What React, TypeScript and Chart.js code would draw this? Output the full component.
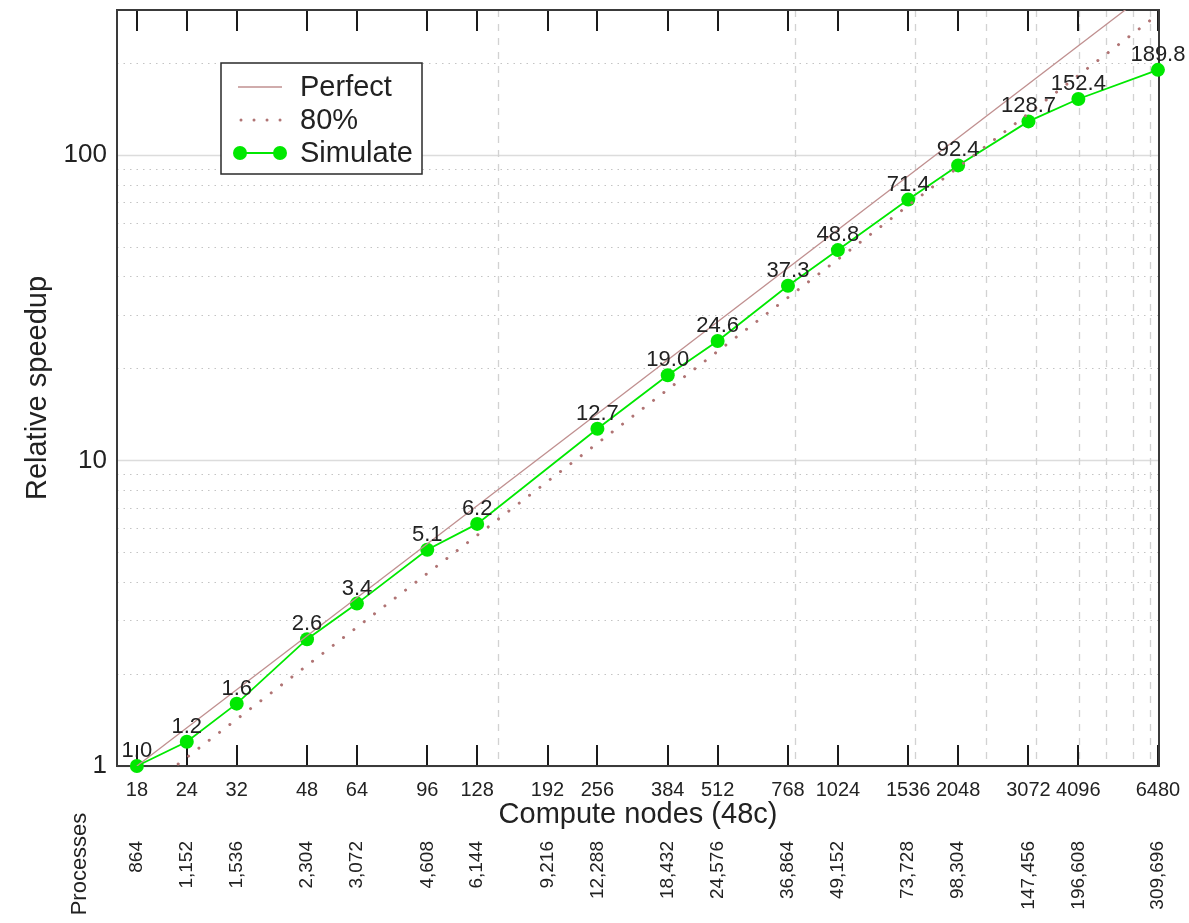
import React, { useEffect, useRef } from 'react';
import { Chart, registerables } from 'chart.js';

Chart.register(...registerables);

const FONT = '"Liberation Sans", Arial, Helvetica, sans-serif';

// Measured data
const computeNodes = [18, 24, 32, 48, 64, 96, 128, 256, 384, 512, 768, 1024, 1536, 2048, 3072, 4096, 6480];
const simulateSpeedup = [1.0, 1.2, 1.6, 2.6, 3.4, 5.1, 6.2, 12.7, 19.0, 24.6, 37.3, 48.8, 71.4, 92.4, 128.7, 152.4, 189.8];

// Reference lines (end points)
const perfectNodes = [18, 6480];
const perfectSpeedup = [1, 360];
const eightyNodes = [18, 6480];
const eightySpeedup = [0.8, 288];

// Axis ticks / labels
const nodeTickValues = [18, 24, 32, 48, 64, 96, 128, 192, 256, 384, 512, 768, 1024, 1536, 2048, 3072, 4096, 6480];
const processLabels = ['864', '1,152', '1,536', '2,304', '3,072', '4,608', '6,144', '9,216', '12,288', '18,432', '24,576', '36,864', '49,152', '73,728', '98,304', '147,456', '196,608', '309,696'];
const yTickValues = [1, 10, 100];
const yMinorGrid = [2, 3, 4, 5, 6, 7, 8, 9, 20, 30, 40, 50, 60, 70, 80, 90, 200];
const xDashedGrid = [144, 800, 1600, 2400, 3200, 4100, 4800, 5600, 6200];

const legendItems = ['Perfect', '80%', 'Simulate'];

const PERFECT_COLOR = '#c09090';
const EIGHTY_COLOR = '#b07474';
const GREEN = '#00e800';

const decorPlugin = {
  id: 'decor',
  beforeDatasetsDraw(chart: any) {
    const { ctx, chartArea: a, scales } = chart;
    const x = scales.x;
    const y = scales.y;
    ctx.save();
    // major horizontal grid
    ctx.strokeStyle = '#dcdcdc';
    ctx.lineWidth = 1.3;
    for (const v of yTickValues) {
      const py = Math.round(y.getPixelForValue(v)) + 0.5;
      ctx.beginPath();
      ctx.moveTo(a.left, py);
      ctx.lineTo(a.right, py);
      ctx.stroke();
    }
    // minor dotted grid
    ctx.setLineDash([1.5, 5]);
    ctx.strokeStyle = '#c4c4c4';
    ctx.lineWidth = 1;
    for (const v of yMinorGrid) {
      const py = Math.round(y.getPixelForValue(v)) + 0.5;
      if (py < a.top || py > a.bottom) continue;
      ctx.beginPath();
      ctx.moveTo(a.left, py);
      ctx.lineTo(a.right, py);
      ctx.stroke();
    }
    // vertical dashed grid
    ctx.setLineDash([7, 7]);
    ctx.strokeStyle = '#d2d2d2';
    ctx.lineWidth = 1.3;
    for (const v of xDashedGrid) {
      const px = Math.round(x.getPixelForValue(v)) + 0.5;
      ctx.beginPath();
      ctx.moveTo(px, a.top);
      ctx.lineTo(px, a.bottom);
      ctx.stroke();
    }
    ctx.setLineDash([]);
    // tick marks (inward, bottom and top)
    ctx.strokeStyle = '#1a1a1a';
    ctx.lineWidth = 2;
    for (const v of nodeTickValues) {
      const px = Math.round(x.getPixelForValue(v));
      ctx.beginPath();
      ctx.moveTo(px, a.bottom);
      ctx.lineTo(px, a.bottom - 21);
      ctx.moveTo(px, a.top);
      ctx.lineTo(px, a.top + 21);
      ctx.stroke();
    }
    // frame
    ctx.strokeStyle = '#3a3a3a';
    ctx.lineWidth = 2;
    ctx.strokeRect(a.left, a.top, a.right - a.left, a.bottom - a.top);
    ctx.restore();
  },
  afterDatasetsDraw(chart: any) {
    const { ctx, chartArea: a, scales } = chart;
    const x = scales.x;
    const y = scales.y;
    ctx.save();
    // data labels
    ctx.fillStyle = '#222';
    ctx.font = `22px ${FONT}`;
    ctx.textAlign = 'center';
    ctx.textBaseline = 'alphabetic';
    computeNodes.forEach((n, i) => {
      const px = x.getPixelForValue(n);
      const py = y.getPixelForValue(simulateSpeedup[i]);
      ctx.fillText(simulateSpeedup[i].toFixed(1), px, py - 9);
    });

    // legend
    const lx = 221, ly = 63, lw = 201, lh = 111;
    ctx.fillStyle = '#ffffff';
    ctx.fillRect(lx, ly, lw, lh);
    ctx.strokeStyle = '#2a2a2a';
    ctx.lineWidth = 1.5;
    ctx.strokeRect(lx, ly, lw, lh);
    const rowY = [87, 120, 153];
    // Perfect sample
    ctx.strokeStyle = PERFECT_COLOR;
    ctx.lineWidth = 1.3;
    ctx.beginPath();
    ctx.moveTo(238, rowY[0]);
    ctx.lineTo(282, rowY[0]);
    ctx.stroke();
    // 80% sample
    ctx.strokeStyle = EIGHTY_COLOR;
    ctx.lineWidth = 3;
    ctx.lineCap = 'round';
    ctx.setLineDash([0.01, 13]);
    ctx.beginPath();
    ctx.moveTo(241, rowY[1]);
    ctx.lineTo(282, rowY[1]);
    ctx.stroke();
    ctx.setLineDash([]);
    ctx.lineCap = 'butt';
    // Simulate sample
    ctx.strokeStyle = GREEN;
    ctx.lineWidth = 1.8;
    ctx.beginPath();
    ctx.moveTo(240, rowY[2]);
    ctx.lineTo(280, rowY[2]);
    ctx.stroke();
    ctx.fillStyle = GREEN;
    for (const cx of [240, 280]) {
      ctx.beginPath();
      ctx.arc(cx, rowY[2], 7, 0, Math.PI * 2);
      ctx.fill();
    }
    ctx.fillStyle = '#222';
    ctx.font = `29px ${FONT}`;
    ctx.textAlign = 'left';
    ctx.textBaseline = 'middle';
    legendItems.forEach((t, i) => ctx.fillText(t, 300, rowY[i] + 1));

    // axis titles
    ctx.textAlign = 'center';
    ctx.textBaseline = 'middle';
    ctx.font = `29px ${FONT}`;
    ctx.fillText('Compute nodes (48c)', (a.left + a.right) / 2, 815);
    ctx.save();
    ctx.translate(38, (a.top + a.bottom) / 2);
    ctx.rotate(-Math.PI / 2);
    ctx.fillText('Relative speedup', 0, 0);
    ctx.restore();

    // processes labels (end of text anchored at top)
    ctx.font = `19px ${FONT}`;
    ctx.textAlign = 'right';
    nodeTickValues.forEach((v, i) => {
      const px = x.getPixelForValue(v);
      ctx.save();
      ctx.translate(px, 841);
      ctx.rotate(-Math.PI / 2);
      ctx.fillText(processLabels[i], 0, 0);
      ctx.restore();
    });
    ctx.textAlign = 'center';
    ctx.font = `22px ${FONT}`;
    ctx.save();
    ctx.translate(80, 864);
    ctx.rotate(-Math.PI / 2);
    ctx.fillText('Processes', 0, 0);
    ctx.restore();
    ctx.restore();
  },
};

export default function App() {
  const canvasRef = useRef<HTMLCanvasElement | null>(null);

  useEffect(() => {
    const canvas = canvasRef.current;
    if (!canvas) return;
    const chart = new Chart(canvas, {
      type: 'line',
      data: {
        datasets: [
          {
            label: 'Perfect',
            data: perfectNodes.map((n, i) => ({ x: n, y: perfectSpeedup[i] })),
            borderColor: PERFECT_COLOR,
            borderWidth: 1.3,
            pointRadius: 0,
            clip: 0,
          },
          {
            label: '80%',
            data: eightyNodes.map((n, i) => ({ x: n, y: eightySpeedup[i] })),
            borderColor: EIGHTY_COLOR,
            borderWidth: 3,
            borderDash: [0.01, 13],
            borderCapStyle: 'round',
            pointRadius: 0,
            clip: 0,
          },
          {
            label: 'Simulate',
            data: computeNodes.map((n, i) => ({ x: n, y: simulateSpeedup[i] })),
            borderColor: GREEN,
            borderWidth: 1.8,
            pointRadius: 7,
            pointBorderWidth: 0,
            pointBackgroundColor: GREEN,
            pointBorderColor: GREEN,
            clip: 12,
          },
        ],
      } as any,
      options: {
        animation: false,
        responsive: false,
        devicePixelRatio: 1,
        layout: { padding: { top: 10, right: 30, left: 0, bottom: 0 } },
        plugins: {
          legend: { display: false },
          tooltip: { enabled: false },
        },
        scales: {
          x: {
            type: 'logarithmic',
            min: 16.05,
            max: 6520,
            afterBuildTicks: (scale: any) => {
              scale.ticks = nodeTickValues.map((v) => ({ value: v }));
            },
            afterFit: (scale: any) => {
              scale.height = 157;
              scale.paddingLeft = 0;
              scale.paddingRight = 0;
            },
            ticks: {
              autoSkip: false,
              maxRotation: 0,
              minRotation: 0,
              padding: 12,
              color: '#222',
              font: { family: FONT, size: 20 },
              callback: (v: any) => String(v),
            },
            grid: { display: false, drawTicks: false },
            border: { display: false },
          },
          y: {
            type: 'logarithmic',
            min: 1,
            max: 298,
            afterBuildTicks: (scale: any) => {
              scale.ticks = yTickValues.map((v) => ({ value: v }));
            },
            afterFit: (scale: any) => {
              scale.width = 117;
              scale.paddingTop = 0;
              scale.paddingBottom = 0;
            },
            ticks: {
              padding: 10,
              color: '#222',
              font: { family: FONT, size: 26 },
              callback: (v: any) => String(v),
            },
            grid: { display: false, drawTicks: false },
            border: { display: false },
          },
        },
      } as any,
      plugins: [decorPlugin],
    });
    return () => chart.destroy();
  }, []);

  return (
    <div style={{ position: 'fixed', left: 0, top: 0, width: 1189, height: 923, background: '#ffffff' }}>
      <canvas ref={canvasRef} width={1189} height={923} style={{ display: 'block' }} />
    </div>
  );
}
